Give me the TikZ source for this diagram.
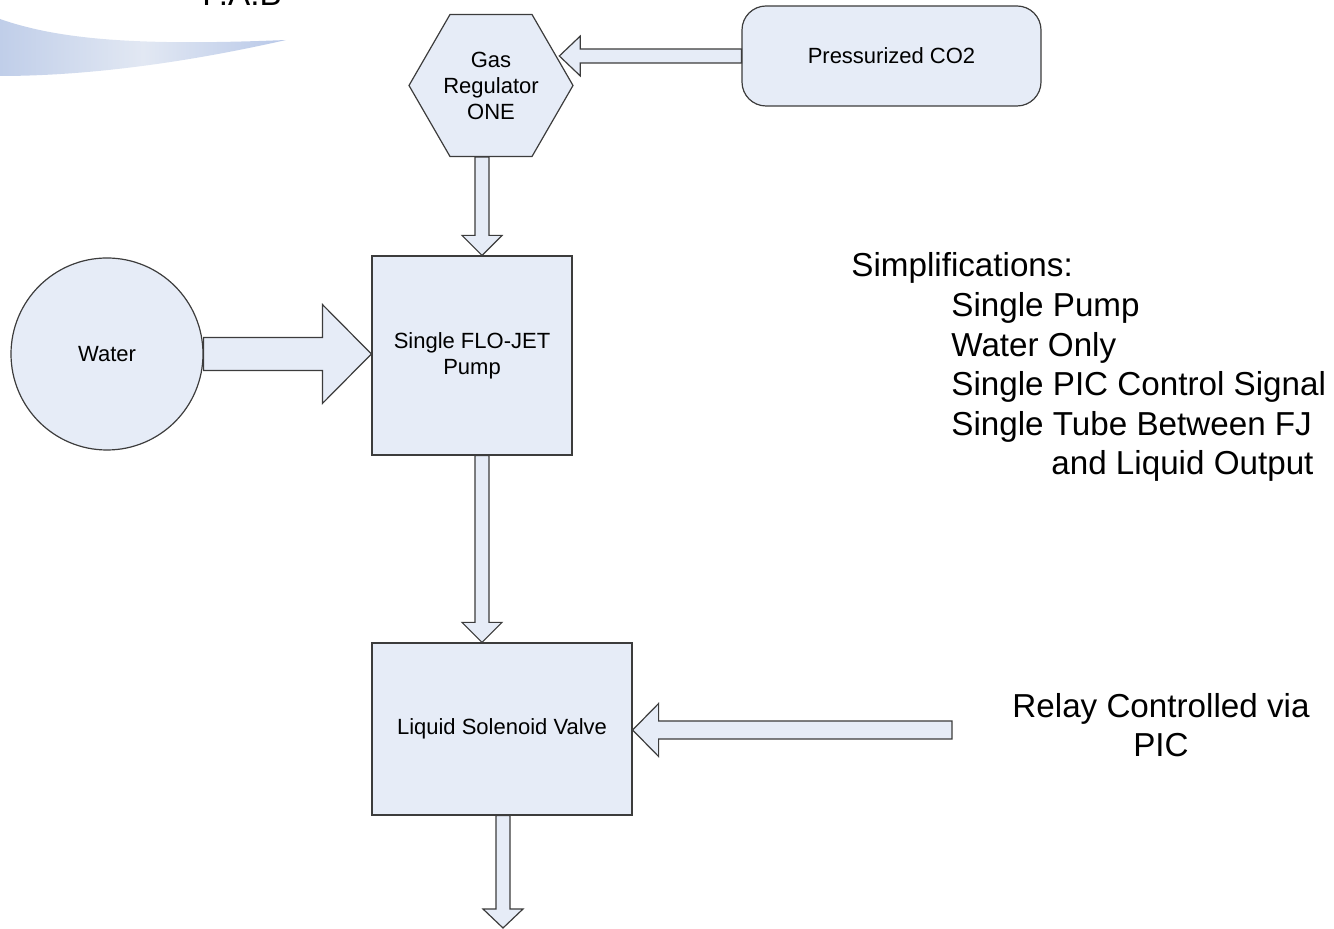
\documentclass[tikz,border=0pt]{standalone}
\usepackage{fontspec}
\setmainfont{Liberation Sans}
\usetikzlibrary{shapes.geometric,calc}

\definecolor{boxfill}{RGB}{230,236,247}
\definecolor{edgegray}{RGB}{60,60,60}
\definecolor{swooshdark}{RGB}{192,206,233}
\definecolor{swooshtip}{RGB}{184,200,232}
\definecolor{swooshlight}{RGB}{226,232,243}

\tikzset{
  part/.style={draw=edgegray, fill=boxfill, line width=0.6pt, inner sep=0pt,
    align=center, font=\fontsize{11}{13}\selectfont},
  flow/.style={draw=edgegray, fill=boxfill, line width=0.6pt},
  note/.style={font=\fontsize{16.6}{19.8}\selectfont, inner sep=0pt},
  % block arrow going down: shaft half width, head half width, head length
  vflow/.style n args={3}{to path={let \p1=(\tikztostart), \p2=(\tikztotarget) in
    ({\x1-#1},\y1) -- ({\x1-#1},{\y2+#3}) -- ({\x1-#2},{\y2+#3}) -- (\x1,\y2)
    -- ({\x1+#2},{\y2+#3}) -- ({\x1+#1},{\y2+#3}) -- ({\x1+#1},\y1) -- cycle}},
  % block arrow going left or right, same arguments
  hflow/.style n args={3}{to path={let \p1=(\tikztostart), \p2=(\tikztotarget),
    \n1={ifthenelse(\x2>\x1,-#3,#3)} in
    (\x1,{\y1+#1}) -- ({\x2+\n1},{\y1+#1}) -- ({\x2+\n1},{\y1+#2}) -- (\x2,\y1)
    -- ({\x2+\n1},{\y1-#2}) -- ({\x2+\n1},{\y1-#1}) -- (\x1,{\y1-#1}) -- cycle}},
}

\begin{document}
\begin{tikzpicture}[x=0.5pt, y=-0.5pt]
\useasboundingbox (0,0) rectangle (1334,929);

% swoosh and title, cut by the page edge
\shade[left color=swooshdark, right color=swooshtip, middle color=swooshlight]
  (0,19) .. controls (60,40) and (140,46) .. (286,40)
  .. controls (220,55) and (110,76) .. (0,76) -- cycle;
\node[note, anchor=base] (fab) at (242,6) {F.A.B};

% parts
\node[part, rounded corners=12pt, minimum width=149.5pt, minimum height=50pt] (co2) at (891.5,56) {Pressurized CO2};
\node[part, regular polygon, regular polygon sides=6, minimum size=82pt] (hex) at (491,85.5) {Gas\\Regulator\\ONE};
\node[part, circle, minimum size=96pt] (water) at (107,354) {Water};
\node[part, minimum width=100pt, minimum height=99.5pt] (pump) at (472,355.5) {Single FLO-JET\\Pump};
\node[part, minimum width=130pt, minimum height=86pt] (valve) at (502,729) {Liquid Solenoid Valve};
\coordinate (relay) at (952,730);
\coordinate (out) at (503,928);

% flows
\draw[flow] (co2.west) to[hflow={3.5pt}{10pt}{10.5pt}] (hex.20);
\draw[flow] ($(hex.south)+(-9,0)$) to[vflow={3.5pt}{10pt}{10pt}] (pump.north);
\draw[flow] (water.east) to[hflow={8.25pt}{24.75pt}{24.5pt}] (pump.west);
\draw[flow] ($(pump.south)+(10,0)$) to[vflow={3.5pt}{10pt}{10pt}] (valve.north);
\draw[flow] (relay) to[hflow={4.5pt}{13.25pt}{13pt}] (valve.east);
\draw[flow] ($(valve.south)+(1,0)$) to[vflow={3.5pt}{10pt}{9.5pt}] (out);

% notes
\node[note, align=center] (relaynote) at (1161,725) {Relay Controlled via\\PIC};
\node[note, anchor=base west] (simp) at (851,277) {Simplifications:};
\node[note, anchor=base west] (simp1) at (951,316.6) {Single Pump};
\node[note, anchor=base west] (simp2) at (951,356.2) {Water Only};
\node[note, anchor=base west] (simp3) at (951,395.8) {Single PIC Control Signal};
\node[note, anchor=base west] (simp4) at (951,435.4) {Single Tube Between FJ};
\node[note, anchor=base west] (simp5) at (1051,475) {and Liquid Output};
\end{tikzpicture}
\end{document}
